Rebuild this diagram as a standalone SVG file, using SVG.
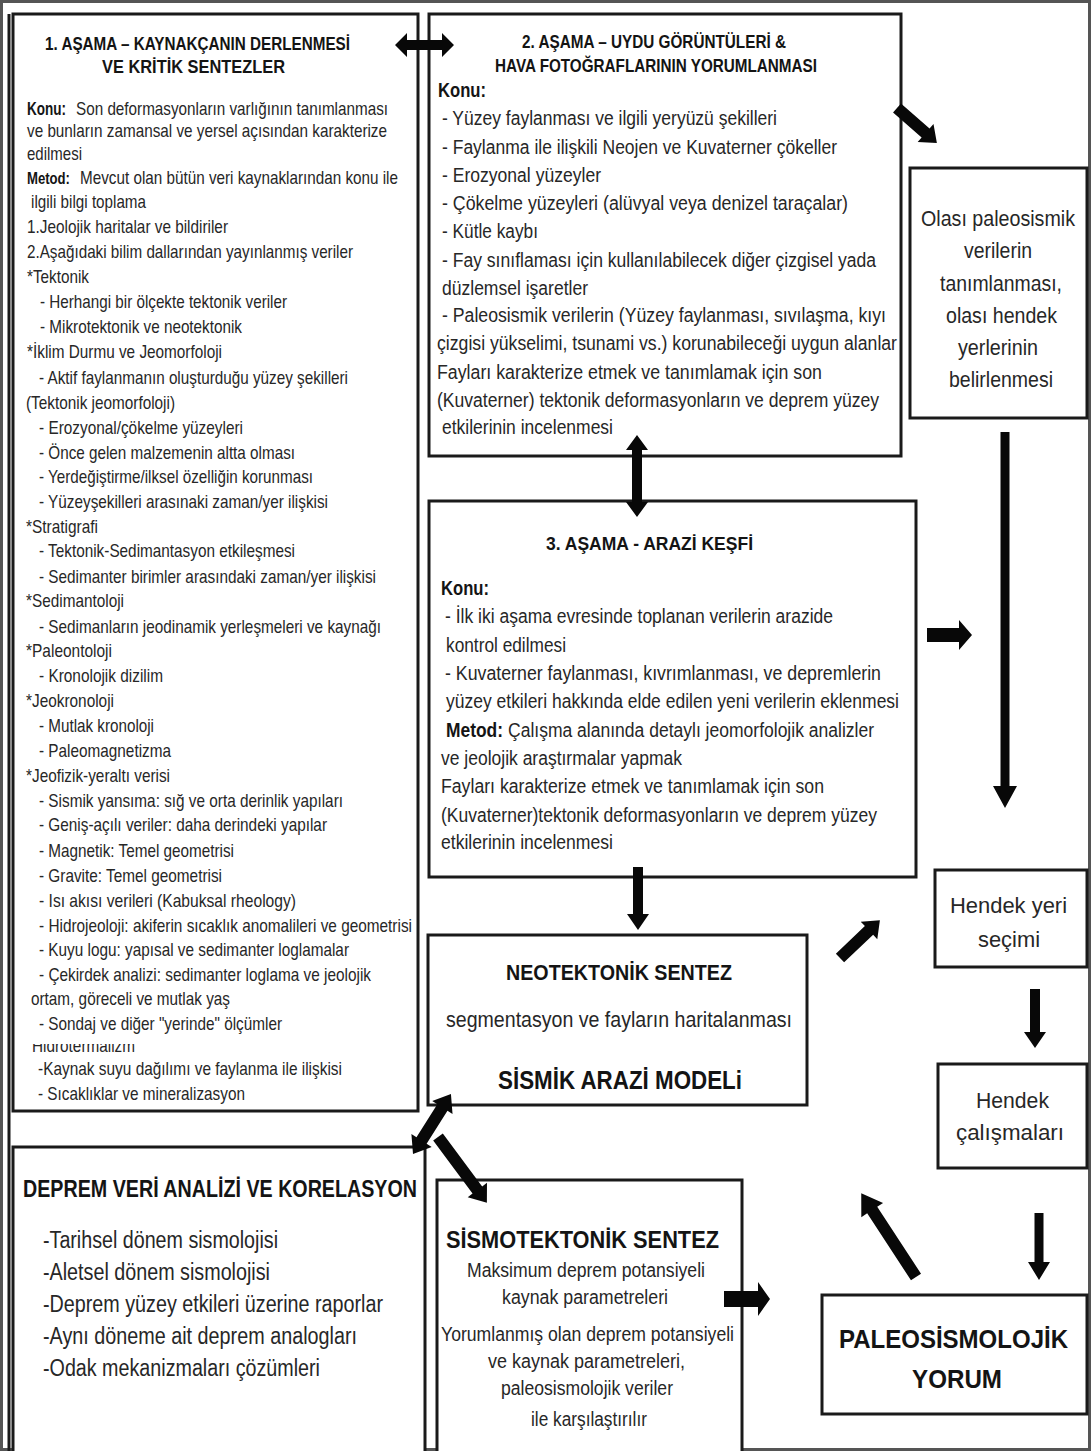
<svg xmlns="http://www.w3.org/2000/svg" width="1091" height="1451" viewBox="0 0 1091 1451">
<style>
text{font-family:"Liberation Sans Narrow","Liberation Sans",Arial,sans-serif;fill:#272727}
.s18{font-size:18.5px}
.s20{font-size:20px}
.s22{font-size:22px}
.b{font-weight:bold;fill:#141414}
.box{fill:#fff;stroke:#1a1a1a;stroke-width:3}
.arr{fill:#080808}
.frame{fill:#fff;stroke:#555;stroke-width:3}
</style>
<defs>
<clipPath id="clipH"><rect x="20" y="1044" width="200" height="20"/></clipPath>
</defs>
<rect class="frame" x="1.5" y="1.5" width="1088" height="1448"/>
<line x1="9" y1="14" x2="9" y2="1451" stroke="#1a1a1a" stroke-width="3"/>
<path d="M25,1418 H38 V1410 L50,1429 L38,1446 V1440 H25 Z" fill="#f0f0f0" stroke="#e4e4e4" stroke-width="1"/>

<g id="stage1">
<rect class="box" x="13" y="14" width="405" height="1097"/>
<text class="b" x="45" y="50" textLength="305" lengthAdjust="spacingAndGlyphs" style="font-size:17.5px">1. AŞAMA – KAYNAKÇANIN DERLENMESİ</text>
<text class="b" x="102" y="73" textLength="183" lengthAdjust="spacingAndGlyphs" style="font-size:17.5px">VE KRİTİK SENTEZLER</text>
<text class="s18 b" x="27" y="115" textLength="39" lengthAdjust="spacingAndGlyphs">Konu:</text>
<text class="s18" x="76" y="115" textLength="312" lengthAdjust="spacingAndGlyphs">Son deformasyonların varlığının tanımlanması</text>
<text class="s18" x="27" y="137" textLength="360" lengthAdjust="spacingAndGlyphs">ve bunların zamansal ve yersel açısından karakterize</text>
<text class="s18" x="27" y="160" textLength="55" lengthAdjust="spacingAndGlyphs">edilmesi</text>
<text class="b" x="27" y="184" textLength="43" lengthAdjust="spacingAndGlyphs" style="font-size:17px">Metod:</text>
<text class="s18" x="80" y="184" textLength="318" lengthAdjust="spacingAndGlyphs">Mevcut olan bütün veri kaynaklarından konu ile</text>
<text class="s18" x="31" y="208" textLength="115" lengthAdjust="spacingAndGlyphs">ilgili bilgi toplama</text>
<text class="s18" x="27" y="233" textLength="201" lengthAdjust="spacingAndGlyphs">1.Jeolojik haritalar ve bildiriler</text>
<text class="s18" x="27" y="258" textLength="326" lengthAdjust="spacingAndGlyphs">2.Aşağıdaki bilim dallarından yayınlanmış veriler</text>
<text class="s18" x="27" y="283" textLength="62" lengthAdjust="spacingAndGlyphs">*Tektonik</text>
<text class="s18" x="40" y="308" textLength="247" lengthAdjust="spacingAndGlyphs">- Herhangi bir ölçekte tektonik veriler</text>
<text class="s18" x="40" y="333" textLength="202" lengthAdjust="spacingAndGlyphs">- Mikrotektonik ve neotektonik</text>
<text class="s18" x="27" y="358" textLength="195" lengthAdjust="spacingAndGlyphs">*İklim Durmu ve Jeomorfoloji</text>
<text class="s18" x="39" y="384" textLength="309" lengthAdjust="spacingAndGlyphs">- Aktif faylanmanın oluşturduğu yüzey şekilleri</text>
<text class="s18" x="26" y="409" textLength="149" lengthAdjust="spacingAndGlyphs">(Tektonik jeomorfoloji)</text>
<text class="s18" x="39" y="434" textLength="204" lengthAdjust="spacingAndGlyphs">- Erozyonal/çökelme yüzeyleri</text>
<text class="s18" x="39" y="459" textLength="256" lengthAdjust="spacingAndGlyphs">- Önce gelen malzemenin altta olması</text>
<text class="s18" x="39" y="483" textLength="274" lengthAdjust="spacingAndGlyphs">- Yerdeğiştirme/ilksel özelliğin korunması</text>
<text class="s18" x="39" y="508" textLength="289" lengthAdjust="spacingAndGlyphs">- Yüzeyşekilleri arasınaki zaman/yer ilişkisi</text>
<text class="s18" x="26" y="533" textLength="72" lengthAdjust="spacingAndGlyphs">*Stratigrafi</text>
<text class="s18" x="39" y="557" textLength="256" lengthAdjust="spacingAndGlyphs">- Tektonik-Sedimantasyon etkileşmesi</text>
<text class="s18" x="39" y="583" textLength="337" lengthAdjust="spacingAndGlyphs">- Sedimanter birimler arasındaki zaman/yer ilişkisi</text>
<text class="s18" x="26" y="607" textLength="98" lengthAdjust="spacingAndGlyphs">*Sedimantoloji</text>
<text class="s18" x="39" y="633" textLength="342" lengthAdjust="spacingAndGlyphs">- Sedimanların jeodinamik yerleşmeleri ve kaynağı</text>
<text class="s18" x="26" y="657" textLength="86" lengthAdjust="spacingAndGlyphs">*Paleontoloji</text>
<text class="s18" x="39" y="682" textLength="124" lengthAdjust="spacingAndGlyphs">- Kronolojik dizilim</text>
<text class="s18" x="26" y="707" textLength="88" lengthAdjust="spacingAndGlyphs">*Jeokronoloji</text>
<text class="s18" x="39" y="732" textLength="115" lengthAdjust="spacingAndGlyphs">- Mutlak kronoloji</text>
<text class="s18" x="39" y="757" textLength="132" lengthAdjust="spacingAndGlyphs">- Paleomagnetizma</text>
<text class="s18" x="26" y="782" textLength="144" lengthAdjust="spacingAndGlyphs">*Jeofizik-yeraltı verisi</text>
<text class="s18" x="39" y="807" textLength="304" lengthAdjust="spacingAndGlyphs">- Sismik yansıma: sığ ve orta derinlik yapıları</text>
<text class="s18" x="39" y="831" textLength="288" lengthAdjust="spacingAndGlyphs">- Geniş-açılı veriler: daha derindeki yapılar</text>
<text class="s18" x="39" y="857" textLength="195" lengthAdjust="spacingAndGlyphs">- Magnetik: Temel geometrisi</text>
<text class="s18" x="39" y="882" textLength="183" lengthAdjust="spacingAndGlyphs">- Gravite: Temel geometrisi</text>
<text class="s18" x="39" y="907" textLength="257" lengthAdjust="spacingAndGlyphs">- Isı akısı verileri (Kabuksal rheology)</text>
<text class="s18" x="39" y="932" textLength="373" lengthAdjust="spacingAndGlyphs">- Hidrojeoloji: akiferin sıcaklık anomalileri ve geometrisi</text>
<text class="s18" x="39" y="956" textLength="310" lengthAdjust="spacingAndGlyphs">- Kuyu logu: yapısal ve sedimanter loglamalar</text>
<text class="s18" x="39" y="981" textLength="332" lengthAdjust="spacingAndGlyphs">- Çekirdek analizi: sedimanter loglama ve jeolojik</text>
<text class="s18" x="31" y="1005" textLength="199" lengthAdjust="spacingAndGlyphs">ortam, göreceli ve mutlak yaş</text>
<text class="s18" x="39" y="1030" textLength="243" lengthAdjust="spacingAndGlyphs">- Sondaj ve diğer "yerinde" ölçümler</text>
<text class="s18" x="32" y="1052" textLength="103" lengthAdjust="spacingAndGlyphs" clip-path="url(#clipH)">Hidrotermalizm</text>
<text class="s18" x="38" y="1075" textLength="304" lengthAdjust="spacingAndGlyphs">-Kaynak suyu dağılımı ve faylanma ile ilişkisi</text>
<text class="s18" x="38" y="1100" textLength="207" lengthAdjust="spacingAndGlyphs">- Sıcaklıklar ve mineralizasyon</text>
</g>

<g id="stage2">
<rect class="box" x="429" y="14" width="472" height="442"/>
<text class="b" x="522" y="48" textLength="264" lengthAdjust="spacingAndGlyphs" style="font-size:17.5px">2. AŞAMA – UYDU GÖRÜNTÜLERİ &amp;</text>
<text class="b" x="495" y="72" textLength="322" lengthAdjust="spacingAndGlyphs" style="font-size:17.5px">HAVA FOTOĞRAFLARININ YORUMLANMASI</text>
<text class="s20 b" x="438" y="97" textLength="48" lengthAdjust="spacingAndGlyphs">Konu:</text>
<text class="s20" x="442" y="125" textLength="335" lengthAdjust="spacingAndGlyphs">- Yüzey faylanması ve ilgili yeryüzü şekilleri</text>
<text class="s20" x="442" y="154" textLength="395" lengthAdjust="spacingAndGlyphs">- Faylanma ile ilişkili Neojen ve Kuvaterner çökeller</text>
<text class="s20" x="442" y="182" textLength="159" lengthAdjust="spacingAndGlyphs">- Erozyonal yüzeyler</text>
<text class="s20" x="442" y="210" textLength="406" lengthAdjust="spacingAndGlyphs">- Çökelme yüzeyleri (alüvyal veya denizel taraçalar)</text>
<text class="s20" x="442" y="238" textLength="96" lengthAdjust="spacingAndGlyphs">- Kütle kaybı</text>
<text class="s20" x="442" y="267" textLength="434" lengthAdjust="spacingAndGlyphs">- Fay sınıflaması için kullanılabilecek diğer çizgisel yada</text>
<text class="s20" x="442" y="295" textLength="146" lengthAdjust="spacingAndGlyphs">düzlemsel işaretler</text>
<text class="s20" x="442" y="322" textLength="444" lengthAdjust="spacingAndGlyphs">- Paleosismik verilerin (Yüzey faylanması, sıvılaşma, kıyı</text>
<text class="s20" x="437" y="350" textLength="460" lengthAdjust="spacingAndGlyphs">çizgisi yükselimi, tsunami vs.) korunabileceği uygun alanlar</text>
<text class="s20" x="437" y="379" textLength="385" lengthAdjust="spacingAndGlyphs">Fayları karakterize etmek ve tanımlamak için son</text>
<text class="s20" x="437" y="407" textLength="442" lengthAdjust="spacingAndGlyphs">(Kuvaterner) tektonik deformasyonların ve deprem yüzey</text>
<text class="s20" x="442" y="434" textLength="171" lengthAdjust="spacingAndGlyphs">etkilerinin incelenmesi</text>
</g>

<g id="paleoseismic-sites">
<rect class="box" x="910" y="168" width="177" height="250"/>
<text class="s22" x="921" y="226" textLength="154" lengthAdjust="spacingAndGlyphs">Olası paleosismik</text>
<text class="s22" x="964" y="258" textLength="68" lengthAdjust="spacingAndGlyphs">verilerin</text>
<text class="s22" x="940" y="291" textLength="122" lengthAdjust="spacingAndGlyphs">tanımlanması,</text>
<text class="s22" x="946" y="323" textLength="111" lengthAdjust="spacingAndGlyphs">olası hendek</text>
<text class="s22" x="958" y="355" textLength="80" lengthAdjust="spacingAndGlyphs">yerlerinin</text>
<text class="s22" x="949" y="387" textLength="104" lengthAdjust="spacingAndGlyphs">belirlenmesi</text>
</g>

<g id="stage3">
<rect class="box" x="429" y="501" width="487" height="376"/>
<text class="b" x="546" y="550" textLength="207" lengthAdjust="spacingAndGlyphs" style="font-size:19px">3. AŞAMA - ARAZİ KEŞFİ</text>
<text class="s20 b" x="441" y="595" textLength="48" lengthAdjust="spacingAndGlyphs">Konu:</text>
<text class="s20" x="445" y="623" textLength="388" lengthAdjust="spacingAndGlyphs">- İlk iki aşama evresinde toplanan verilerin arazide</text>
<text class="s20" x="446" y="652" textLength="120" lengthAdjust="spacingAndGlyphs">kontrol edilmesi</text>
<text class="s20" x="445" y="680" textLength="436" lengthAdjust="spacingAndGlyphs">- Kuvaterner faylanması, kıvrımlanması, ve depremlerin</text>
<text class="s20" x="446" y="708" textLength="453" lengthAdjust="spacingAndGlyphs">yüzey etkileri hakkında elde edilen yeni verilerin eklenmesi</text>
<text class="s20 b" x="446" y="737" textLength="57" lengthAdjust="spacingAndGlyphs">Metod:</text>
<text class="s20" x="508" y="737" textLength="366" lengthAdjust="spacingAndGlyphs">Çalışma alanında detaylı jeomorfolojik analizler</text>
<text class="s20" x="441" y="765" textLength="241" lengthAdjust="spacingAndGlyphs">ve jeolojik araştırmalar yapmak</text>
<text class="s20" x="441" y="793" textLength="383" lengthAdjust="spacingAndGlyphs">Fayları karakterize etmek ve tanımlamak için son</text>
<text class="s20" x="441" y="822" textLength="436" lengthAdjust="spacingAndGlyphs">(Kuvaterner)tektonik deformasyonların ve deprem yüzey</text>
<text class="s20" x="441" y="849" textLength="172" lengthAdjust="spacingAndGlyphs">etkilerinin incelenmesi</text>
</g>

<g id="trench-site">
<rect class="box" x="935" y="870" width="152" height="97"/>
<text class="s22" x="950" y="913" textLength="117" lengthAdjust="spacingAndGlyphs">Hendek yeri</text>
<text class="s22" x="978" y="947" textLength="62" lengthAdjust="spacingAndGlyphs">seçimi</text>
</g>

<g id="neotectonic">
<rect class="box" x="428" y="935" width="379" height="170"/>
<text class="b" x="506" y="980" textLength="226" lengthAdjust="spacingAndGlyphs" style="font-size:22px">NEOTEKTONİK SENTEZ</text>
<text class="s22" x="446" y="1027" textLength="346" lengthAdjust="spacingAndGlyphs">segmentasyon ve fayların haritalanması</text>
<text class="b" x="498" y="1089" textLength="244" lengthAdjust="spacingAndGlyphs" style="font-size:25px">SİSMİK ARAZİ MODELi</text>
</g>

<g id="trench-work">
<rect class="box" x="938" y="1064" width="149" height="104"/>
<text class="s22" x="976" y="1108" textLength="73" lengthAdjust="spacingAndGlyphs">Hendek</text>
<text class="s22" x="956" y="1140" textLength="108" lengthAdjust="spacingAndGlyphs">çalışmaları</text>
</g>

<g id="earthquake-data">
<rect class="box" x="13" y="1147" width="412" height="310"/>
<text class="b" x="23" y="1197" textLength="394" lengthAdjust="spacingAndGlyphs" style="font-size:23px">DEPREM VERİ ANALİZİ VE KORELASYON</text>
<text x="43" y="1248" textLength="235" lengthAdjust="spacingAndGlyphs" style="font-size:23px">-Tarihsel dönem sismolojisi</text>
<text x="43" y="1280" textLength="227" lengthAdjust="spacingAndGlyphs" style="font-size:23px">-Aletsel dönem sismolojisi</text>
<text x="43" y="1312" textLength="340" lengthAdjust="spacingAndGlyphs" style="font-size:23px">-Deprem yüzey etkileri üzerine raporlar</text>
<text x="43" y="1344" textLength="314" lengthAdjust="spacingAndGlyphs" style="font-size:23px">-Aynı döneme ait deprem analogları</text>
<text x="43" y="1376" textLength="277" lengthAdjust="spacingAndGlyphs" style="font-size:23px">-Odak mekanizmaları çözümleri</text>
</g>

<g id="seismotectonic">
<rect class="box" x="437" y="1180" width="305" height="280"/>
<text class="b" x="446" y="1248" textLength="273" lengthAdjust="spacingAndGlyphs" style="font-size:24px">SİSMOTEKTONİK SENTEZ</text>
<text class="s20" x="467" y="1277" textLength="238" lengthAdjust="spacingAndGlyphs">Maksimum deprem potansiyeli</text>
<text class="s20" x="502" y="1304" textLength="166" lengthAdjust="spacingAndGlyphs">kaynak parametreleri</text>
<text class="s20" x="441" y="1341" textLength="293" lengthAdjust="spacingAndGlyphs">Yorumlanmış olan deprem potansiyeli</text>
<text class="s20" x="488" y="1368" textLength="197" lengthAdjust="spacingAndGlyphs">ve kaynak parametreleri,</text>
<text class="s20" x="501" y="1395" textLength="172" lengthAdjust="spacingAndGlyphs">paleosismolojik veriler</text>
<text class="s20" x="531" y="1426" textLength="116" lengthAdjust="spacingAndGlyphs">ile karşılaştırılır</text>
</g>

<g id="paleoseismologic">
<rect class="box" x="822" y="1295" width="265" height="119"/>
<text class="b" x="839" y="1348" textLength="229" lengthAdjust="spacingAndGlyphs" style="font-size:26px">PALEOSİSMOLOJİK</text>
<text class="b" x="912" y="1388" textLength="90" lengthAdjust="spacingAndGlyphs" style="font-size:26px">YORUM</text>
</g>

<g id="connectors">
<path class="arr" d="M395,45 L407,33 V40 H442 V33 L454,45 L442,57 V50 H407 V57 Z"/>
<path class="arr" transform="translate(897,108) rotate(41.2)" d="M0,-6 H38 V-12 L53,0 L38,12 V6 H0 Z"/>
<path class="arr" d="M637,435 L648,450 H642 V502 H648 L637,517 L626,502 H632 V450 H626 Z"/>
<path class="arr" d="M927,628 H959 V620 L972,635 L959,650 V642 H927 Z"/>
<path class="arr" d="M1000.5,432 V786 H993 L1005,808 L1017,786 H1009.5 V432 Z"/>
<path class="arr" d="M633,867 V914 H627 L638,930 L649,914 H643 V867 Z"/>
<path class="arr" transform="translate(840,958) rotate(-43.5)" d="M0,-6 H40 V-12 L55,0 L40,12 V6 H0 Z"/>
<path class="arr" d="M1030,989 V1032 H1024 L1035,1048 L1046,1032 H1040 V989 Z"/>
<path class="arr" d="M1034.5,1213 V1262 H1028 L1039,1280 L1050,1262 H1043.5 V1213 Z"/>
<path class="arr" transform="translate(916,1277) rotate(-123.2)" d="M0,-6 H80 V-13 L100,0 L80,13 V6 H0 Z"/>
<path class="arr" d="M724,1291 H758 V1282 L770,1299 L758,1316 V1307 H724 Z"/>
<path class="arr" transform="translate(413,1154) rotate(-57.7)" d="M0,0 L16,-12 V-6 H55 V-12 L71,0 L55,12 V6 H16 V12 Z"/>
<path class="arr" transform="translate(438,1137) rotate(53.4)" d="M0,-6 H66 V-12 L82,0 L66,12 V6 H0 Z"/>
</g>
</svg>
